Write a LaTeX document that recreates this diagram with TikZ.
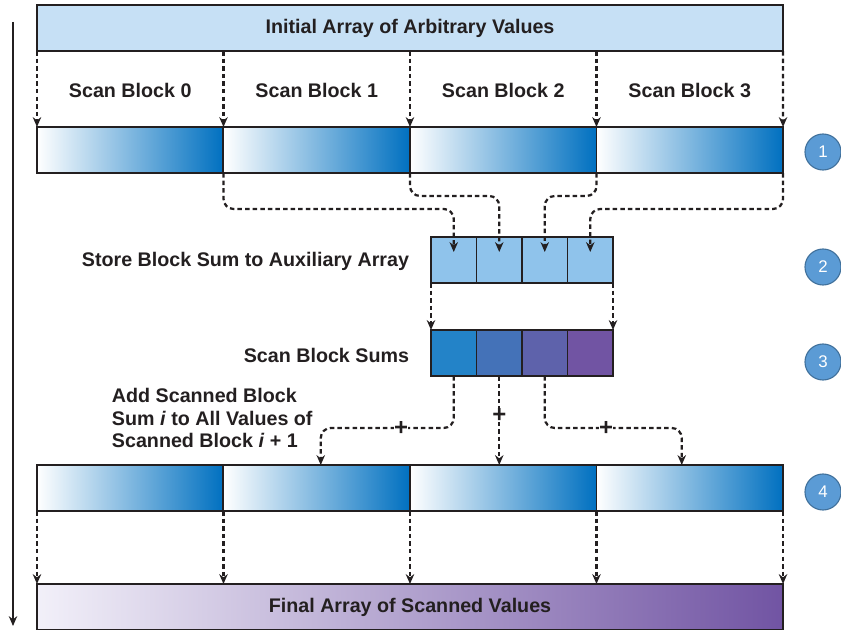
\documentclass[tikz,border=0pt]{standalone}
\usepackage{fontspec}
\setmainfont{Liberation Sans}
\usepackage{tikz}
\usetikzlibrary{arrows.meta,calc}

\definecolor{ink}{RGB}{35,31,32}
\definecolor{topfill}{RGB}{198,224,245}
\definecolor{auxfill}{RGB}{143,195,235}
\definecolor{rowblue}{RGB}{0,112,192}
\definecolor{sumA}{RGB}{35,131,200}
\definecolor{sumB}{RGB}{68,114,184}
\definecolor{sumC}{RGB}{94,98,171}
\definecolor{sumD}{RGB}{113,84,163}
\definecolor{finalL}{RGB}{242,240,249}
\definecolor{dotfill}{RGB}{91,155,213}
\definecolor{dotline}{RGB}{65,113,156}

\begin{document}
\begin{tikzpicture}[x=0.025cm,y=-0.025cm,
    lbl/.style={text=ink, font=\fontsize{14}{17}\selectfont\bfseries},
    bar/.style={draw=ink, line width=1.4pt, minimum width=18.65cm, minimum height=1.15cm, inner sep=0, outer sep=0},
    grad/.style={draw=ink, line width=1.4pt, minimum width=4.6625cm, minimum height=1.15cm, inner sep=0, outer sep=0, left color=white, right color=rowblue},
    cell/.style={draw=ink, line width=1.4pt, minimum width=1.1375cm, minimum height=1.15cm, inner sep=0, outer sep=0},
    flow/.style={draw=ink, line width=1.6pt, dash pattern=on 3.2pt off 2.2pt, -{Stealth[length=7pt,width=6pt]}},
    stepdot/.style={circle, draw=dotline, fill=dotfill, line width=0.8pt, minimum size=0.9cm, inner sep=0, text=white, font=\fontsize{12}{14}\selectfont},
    plus/.style={fill=white, inner sep=0.3pt, text=ink, font=\fontsize{17}{17}\selectfont\bfseries}]

    \useasboundingbox (0,0) rectangle (841,630);

    \coordinate (t0) at (13,22);
    \coordinate (t1) at (13,626);
    \draw[ink, line width=1.2pt, -{Stealth[length=7pt,width=6pt]}] (t0) -- (t1);

    \node[bar, fill=topfill, lbl] (init) at (410,28) {Initial Array of Arbitrary Values};
    \node[bar, left color=finalL, right color=sumD, lbl] (final) at (410,607) {Final Array of Scanned Values};

    \foreach \i in {0,...,3} {
        \node[lbl] (l\i) at ({130.25+186.5*\i},90) {Scan Block \i};
        \node[grad] (s\i) at ({130.25+186.5*\i},150) {};
        \node[grad] (f\i) at ({130.25+186.5*\i},488) {};
        \node[cell, fill=auxfill] (a\i) at ({453.75+45.5*\i},260) {};
    }
    \foreach \i/\c in {0/sumA,1/sumB,2/sumC,3/sumD}
        \node[cell, fill=\c] (b\i) at ({453.75+45.5*\i},353) {};

    \node[lbl, anchor=east] (store) at (414,261) {Store Block Sum to Auxiliary Array};
    \node[lbl, anchor=east] (sums) at (414,355) {Scan Block Sums};
    \node[lbl, anchor=west, align=left, font=\fontsize{14}{16.3}\selectfont\bfseries] (add) at (107,418)
        {Add Scanned Block\\Sum \textit{i} to All Values of\\Scanned Block \textit{i} + 1};

    \foreach \n/\y in {1/152,2/267,3/362,4/492}
        \node[stepdot] (c\n) at (823,\y) {\n};

    \foreach \i in {0,...,3} {
        \draw[flow] (s\i.north west |- init.south) -- (s\i.north west);
        \draw[flow] (f\i.south west) -- (f\i.south west |- final.north);
    }
    \draw[flow] (init.south east) -- (s3.north east);
    \draw[flow] (f3.south east) -- (f3.south east |- final.north);

    \draw[flow, rounded corners=0.25cm, shorten >=0.2cm] (s0.south east) |- ($(a0.north)+(0,-28)$) -- (a0.center);
    \draw[flow, rounded corners=0.25cm, shorten >=0.2cm] (s1.south east) |- ($(a1.north)+(0,-41)$) -- (a1.center);
    \draw[flow, rounded corners=0.25cm, shorten >=0.2cm] (s2.south east) |- ($(a2.north)+(0,-41)$) -- (a2.center);
    \draw[flow, rounded corners=0.25cm, shorten >=0.2cm] (s3.south east) |- ($(a3.north)+(0,-28)$) -- (a3.center);

    \draw[flow] (a0.south west) -- (b0.north west);
    \draw[flow] (a3.south east) -- (b3.north east);

    \draw[flow, rounded corners=0.25cm] (b0.south) |- ($(f1.north)+(4,-37)$) -- ($(f1.north)+(4,0)$);
    \draw[flow] (b1.south) -- (b1.south |- f2.north);
    \draw[flow, rounded corners=0.25cm] (b2.south) |- ($(f3.north)+(-8,-37)$) -- ($(f3.north)+(-8,0)$);

    \node[plus] (p0) at (401,428) {+};
    \node[plus] (p1) at (499.25,415) {+};
    \node[plus] (p2) at (606,428) {+};
\end{tikzpicture}
\end{document}
